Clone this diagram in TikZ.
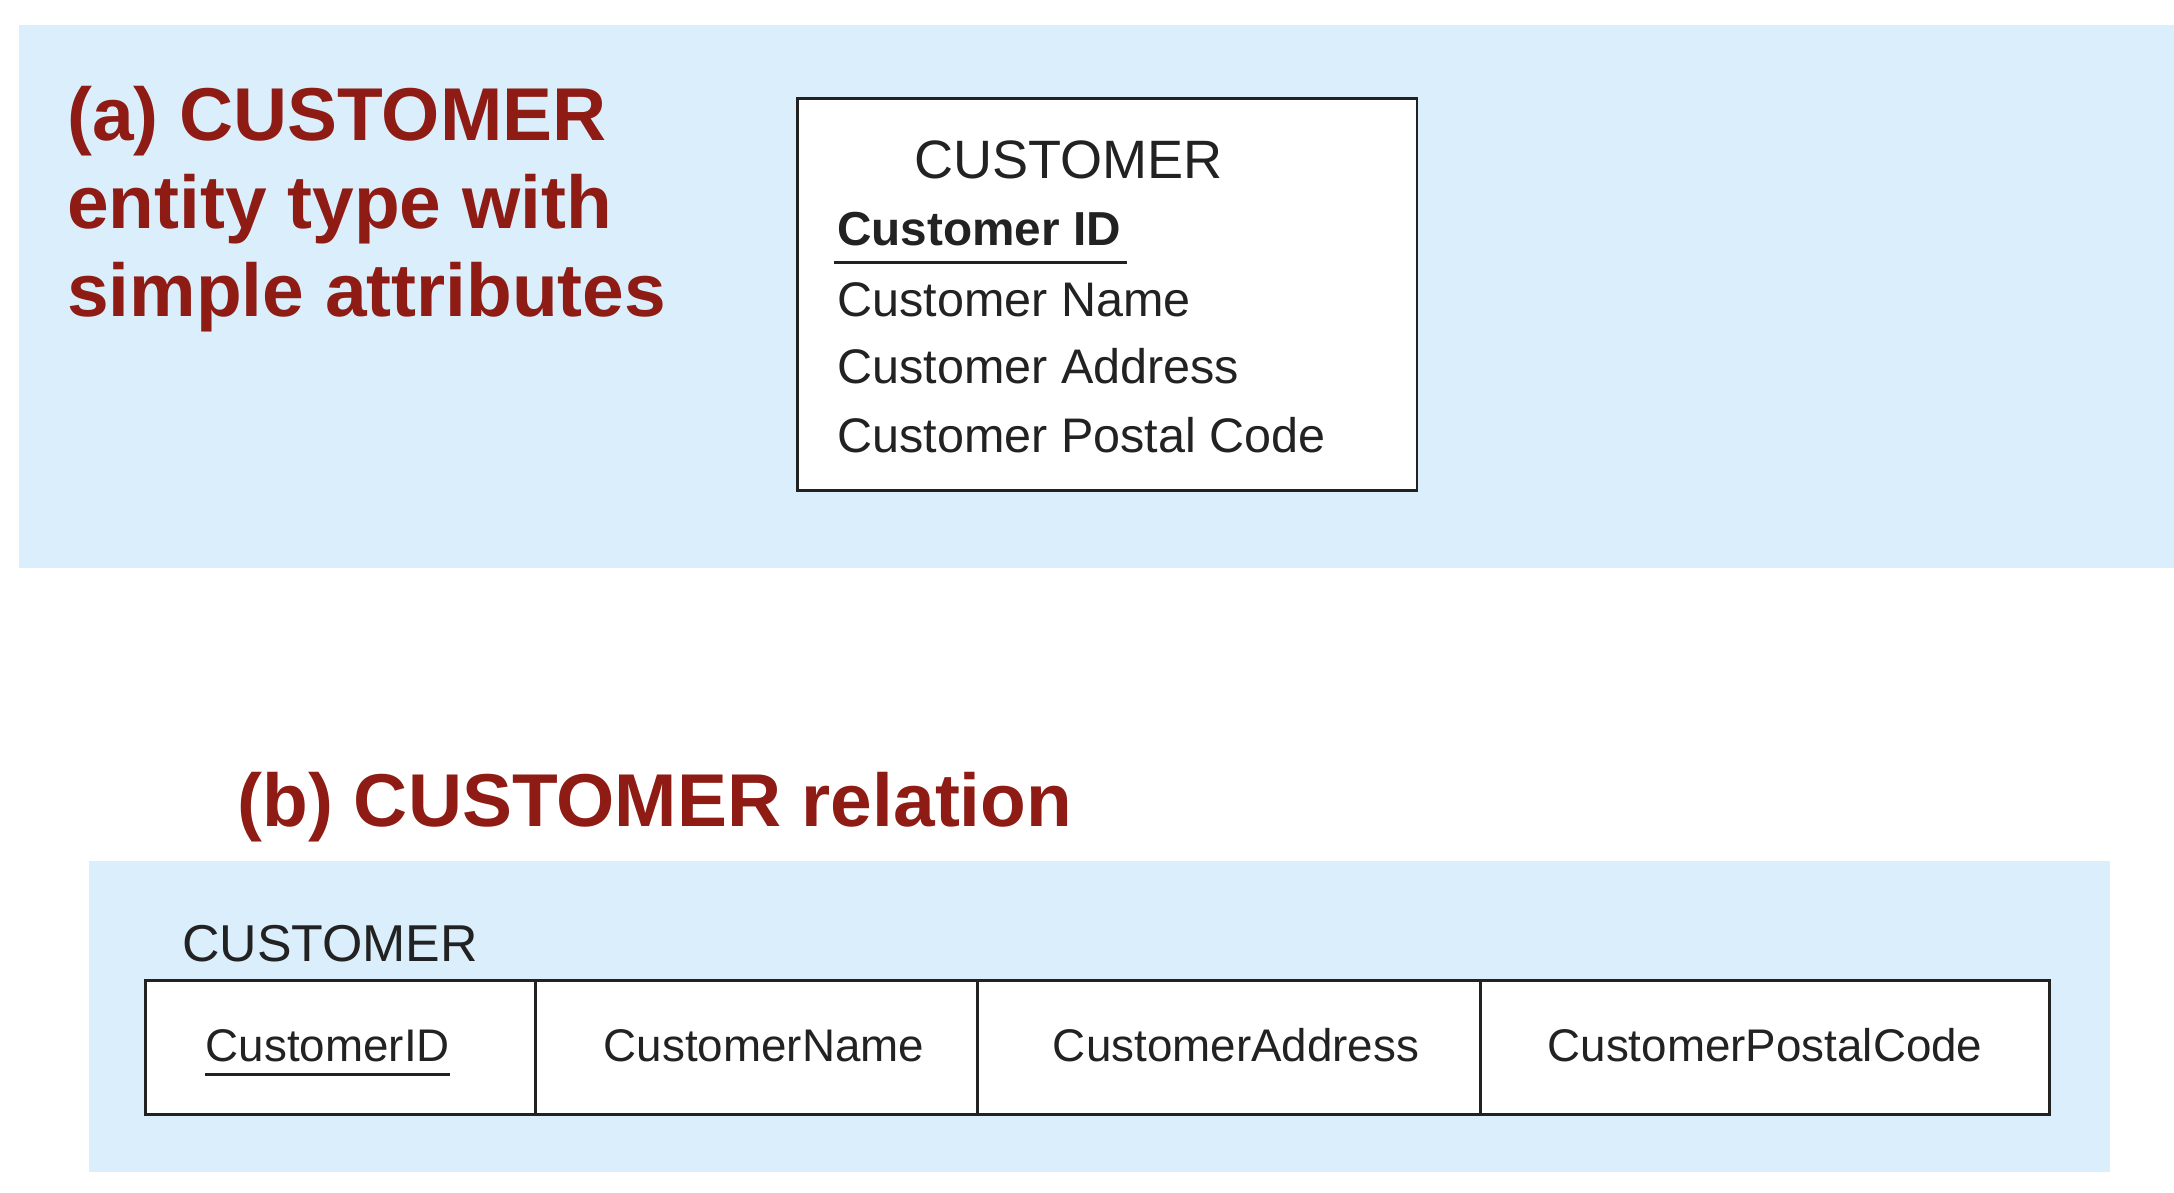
\documentclass[tikz,border=0pt]{standalone}
\usepackage{fontspec}
\setmainfont{Liberation Sans}
\definecolor{panelblue}{HTML}{DAEEFB}
\definecolor{titlered}{HTML}{8E1B14}
\definecolor{ink}{HTML}{222222}
\begin{document}
\begin{tikzpicture}[x=0.5pt,y=-0.5pt,
    every node/.style={inner sep=0pt},
    caption/.style={font=\fontsize{27}{32}\selectfont\bfseries,text=titlered,anchor=base west},
    attr/.style={font=\fontsize{17.5}{21}\selectfont,text=ink,anchor=base west},
    field/.style={font=\fontsize{16.5}{20}\selectfont,text=ink,anchor=base},
    frame/.style={draw=ink,line width=1pt}]
    \useasboundingbox (0,0) rectangle (1568,860);

    % blue panels
    \fill[panelblue] (14,18) rectangle (1568,410);
    \fill[panelblue] (64,621) rectangle (1522,845);

    % (a) entity type
    \node[caption] (capA1) at (48,101) {(a) CUSTOMER};
    \node[caption] (capA2) at (48,165) {entity type with};
    \node[caption] (capA3) at (48,228) {simple attributes};

    \draw[frame,fill=white] (575,71) rectangle (1022,354);
    \node[attr,font=\fontsize{19.5}{23}\selectfont] (entName) at (659,128.5) {CUSTOMER};
    \node[attr,font=\fontsize{17.2}{21}\selectfont\bfseries] (attrId) at (603.5,177) {Customer ID};
    \node[attr] (attrName) at (603.5,228) {Customer Name};
    \node[attr] (attrAddr) at (603.5,276.5) {Customer Address};
    \node[attr] (attrCode) at (603.5,326.5) {Customer Postal Code};
    \draw[ink,line width=1.1pt] ([xshift=-1pt,yshift=-6.3pt]attrId.base west)
        -- ([xshift=2pt,yshift=-6.3pt]attrId.base east);

    % (b) relation
    \node[caption] (capB) at (171,596) {(b) CUSTOMER relation};
    \node[attr,font=\fontsize{18.7}{22}\selectfont] (relName) at (131,693.6) {CUSTOMER};

    \draw[frame,fill=white] (105,707) rectangle (1478,804);
    \foreach \x in {386,705,1068}
        \draw[frame] (\x,707) -- (\x,804);
    \node[field] (colId) at (236.5,765.7) {CustomerID};
    \node[field] (colName) at (551,765.7) {CustomerName};
    \node[field] (colAddr) at (891.5,765.7) {CustomerAddress};
    \node[field] (colCode) at (1273,765.7) {CustomerPostalCode};
    \draw[ink,line width=1.1pt] ([yshift=-4.5pt]colId.base west)
        -- ([yshift=-4.5pt]colId.base east);
\end{tikzpicture}
\end{document}
